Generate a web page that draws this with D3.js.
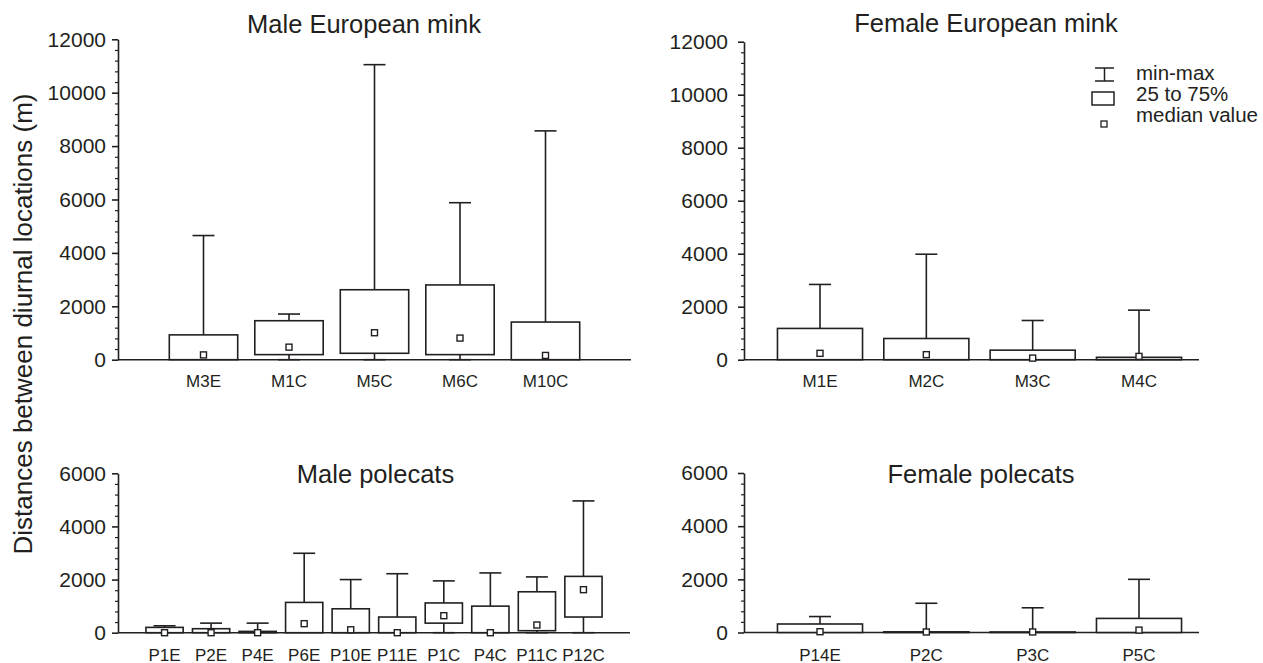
<!DOCTYPE html>
<html><head><meta charset="utf-8">
<script src="https://cdn.jsdelivr.net/npm/d3@7"></script>
<style>
body{margin:0;background:#fff;}
svg{display:block;font-family:"Liberation Sans",Arial,Helvetica,sans-serif;}
</style></head>
<body>
<svg id="chart" width="1263" height="663"></svg>
<script>
// ---------- data ----------
const maleMinkCats   = ["M3E","M1C","M5C","M6C","M10C"];
const maleMinkMin    = [0,0,0,0,0];
const maleMinkQ1     = [0,190,240,190,0];
const maleMinkMedian = [180,470,1010,810,160];
const maleMinkQ3     = [930,1460,2620,2800,1410];
const maleMinkMax    = [4650,1710,11050,5880,8570];

const femaleMinkCats   = ["M1E","M2C","M3C","M4C"];
const femaleMinkMin    = [0,0,0,0];
const femaleMinkQ1     = [0,0,0,0];
const femaleMinkMedian = [240,190,60,125];
const femaleMinkQ3     = [1180,800,360,90];
const femaleMinkMax    = [2840,3980,1480,1870];

const malePoleCats   = ["P1E","P2E","P4E","P6E","P10E","P11E","P1C","P4C","P11C","P12C"];
const malePoleMin    = [0,0,0,0,0,0,0,0,0,0];
const malePoleQ1     = [0,0,0,0,0,0,360,0,75,590];
const malePoleMedian = [0,0,0,340,110,0,640,0,290,1620];
const malePoleQ3     = [200,150,50,1140,900,590,1120,1000,1540,2120];
const malePoleMax    = [260,360,360,2990,2000,2220,1950,2250,2100,4960];

const femalePoleCats   = ["P14E","P2C","P3C","P5C"];
const femalePoleMin    = [0,0,0,0];
const femalePoleQ1     = [0,0,0,0];
const femalePoleMedian = [30,20,20,90];
const femalePoleQ3     = [320,25,20,530];
const femalePoleMax    = [600,1100,930,2000];

const topTicks    = [0,2000,4000,6000,8000,10000,12000];
const bottomTicks = [0,2000,4000,6000];

const titles = ["Male European mink","Female European mink","Male polecats","Female polecats"];
const yLabel = "Distances between diurnal locations (m)";
const legendLabels = ["min-max","25 to 75%","median value"];

// ---------- drawing ----------
const ink = "#231f20";
const svg = d3.select("#chart");

function panel(cfg){
  const g = svg.append("g");
  const y = d3.scaleLinear().domain([0, cfg.ticks[cfg.ticks.length-1]]).range([cfg.yBottom, cfg.yTop]);
  let x;
  if (cfg.centers) {
    x = d3.scalePoint().domain(cfg.cats).range(cfg.centers);
  } else {
    x = d3.scalePoint().domain(cfg.cats).range([cfg.x0, cfg.x1]).padding(1);
  }
  const step = x.step();
  const bw = step * 0.8;
  const capW = 22;

  // minor ticks
  const minor = d3.range(0, cfg.ticks[cfg.ticks.length-1] + 1, 400).filter(v => v % 2000 !== 0);
  g.append("g").attr("transform", `translate(${cfg.x0},0)`)
    .call(d3.axisLeft(y).tickValues(minor).tickSize(3).tickFormat(""))
    .call(a => a.select(".domain").remove())
    .selectAll("line").attr("stroke", ink).attr("stroke-width", 1.2);

  // major axis
  const ax = g.append("g").attr("transform", `translate(${cfg.x0},0)`)
    .call(d3.axisLeft(y).tickValues(cfg.ticks).tickSize(6).tickSizeOuter(0).tickPadding(cfg.pad).tickFormat(d3.format("d")));
  ax.select(".domain").attr("stroke", ink).attr("stroke-width", 1.6);
  ax.selectAll(".tick line").attr("stroke", ink).attr("stroke-width", 1.6);
  ax.selectAll(".tick text").attr("fill", ink).style("font-size", "21px")
    .style("font-family", '"Liberation Sans",Arial,sans-serif');

  // x axis line
  g.append("line").attr("x1", cfg.x0).attr("x2", cfg.x1).attr("y1", y(0)).attr("y2", y(0))
    .attr("stroke", ink).attr("stroke-width", 1.6);

  // category labels
  g.selectAll(".cat").data(cfg.cats).join("text")
    .attr("x", d => x(d)).attr("y", cfg.labelY).attr("text-anchor", "middle")
    .attr("fill", ink).style("font-size", "17px").text(d => d);

  // boxes
  cfg.cats.forEach((c, i) => {
    const cx = x(c);
    const bb = g.append("g").attr("stroke", ink).attr("stroke-width", 1.6).attr("fill", "none");
    bb.append("line").attr("x1", cx).attr("x2", cx).attr("y1", y(cfg.q3[i])).attr("y2", y(cfg.max[i]));
    bb.append("line").attr("x1", cx - capW/2).attr("x2", cx + capW/2).attr("y1", y(cfg.max[i])).attr("y2", y(cfg.max[i]));
    if (cfg.q1[i] > cfg.min[i]) {
      bb.append("line").attr("x1", cx).attr("x2", cx).attr("y1", y(cfg.q1[i])).attr("y2", y(cfg.min[i]));
      bb.append("line").attr("x1", cx - capW/2).attr("x2", cx + capW/2).attr("y1", y(cfg.min[i])).attr("y2", y(cfg.min[i]));
    }
    bb.append("rect").attr("x", cx - bw/2).attr("width", bw)
      .attr("y", y(cfg.q3[i])).attr("height", Math.max(0.5, y(cfg.q1[i]) - y(cfg.q3[i])))
      .attr("fill", "#fff");
    bb.append("rect").attr("x", cx - 3).attr("y", y(cfg.med[i]) - 3).attr("width", 6).attr("height", 6)
      .attr("fill", "#fff").attr("stroke-width", 1.4);
  });

  g.append("text").attr("x", cfg.titleX).attr("y", cfg.titleY).attr("text-anchor", "middle")
    .attr("fill", ink).style("font-size", "25.5px").text(cfg.title);
}

panel({cats: maleMinkCats, min: maleMinkMin, q1: maleMinkQ1, med: maleMinkMedian, q3: maleMinkQ3, max: maleMinkMax,
  ticks: topTicks, x0: 118, x1: 631, yBottom: 359.7, yTop: 39.3, pad: 6, labelY: 386.5,
  title: titles[0], titleX: 364, titleY: 32.5});
panel({cats: femaleMinkCats, min: femaleMinkMin, q1: femaleMinkQ1, med: femaleMinkMedian, q3: femaleMinkQ3, max: femaleMinkMax,
  ticks: topTicks, x0: 744, x1: 1199, centers: [820, 1139], yBottom: 359.7, yTop: 41.7, pad: 10, labelY: 386.5,
  title: titles[1], titleX: 986, titleY: 32});
panel({cats: malePoleCats, min: malePoleMin, q1: malePoleQ1, med: malePoleMedian, q3: malePoleQ3, max: malePoleMax,
  ticks: bottomTicks, x0: 118, x1: 630, yBottom: 632.7, yTop: 473.3, pad: 6, labelY: 660.5,
  title: titles[2], titleX: 375.5, titleY: 482.7});
panel({cats: femalePoleCats, min: femalePoleMin, q1: femalePoleQ1, med: femalePoleMedian, q3: femalePoleQ3, max: femalePoleMax,
  ticks: bottomTicks, x0: 744, x1: 1199, centers: [820, 1139], yBottom: 632.5, yTop: 473, pad: 10, labelY: 660.5,
  title: titles[3], titleX: 981, titleY: 482.7});

svg.append("text").attr("transform", "translate(31.5,324) rotate(-90)").attr("text-anchor", "middle")
  .attr("fill", ink).style("font-size", "26px").text(yLabel);

const lg = svg.append("g").attr("stroke", ink).attr("stroke-width", 1.5).attr("fill", "none");
lg.append("line").attr("x1", 1095).attr("x2", 1114).attr("y1", 68).attr("y2", 68);
lg.append("line").attr("x1", 1095).attr("x2", 1114).attr("y1", 81).attr("y2", 81);
lg.append("line").attr("x1", 1104.5).attr("x2", 1104.5).attr("y1", 68).attr("y2", 81);
lg.append("rect").attr("x", 1092).attr("y", 92).attr("width", 22).attr("height", 13);
lg.append("rect").attr("x", 1101).attr("y", 121).attr("width", 6).attr("height", 6).attr("stroke-width", 1.3);
svg.selectAll(".leg").data(legendLabels).join("text")
  .attr("x", 1136).attr("y", (d, i) => 80 + i * 21.2).attr("fill", ink).style("font-size", "20.5px").text(d => d);
</script>
</body></html>
